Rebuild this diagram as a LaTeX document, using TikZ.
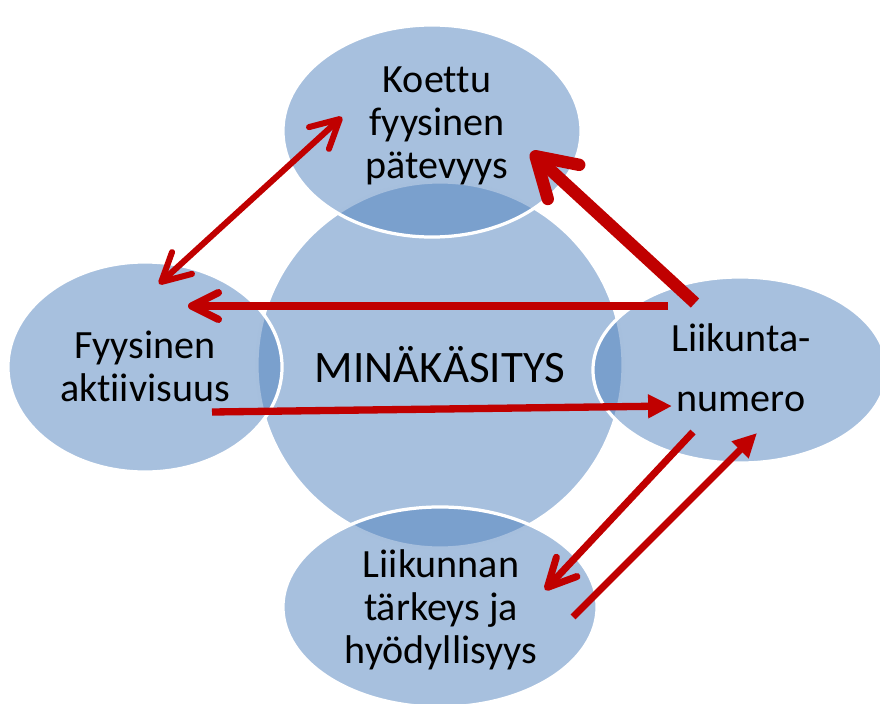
\documentclass[tikz,border=0pt]{standalone}
\usepackage{fontspec}
\setmainfont[Ligatures=NoCommon]{Carlito}
\usetikzlibrary{shapes.geometric,arrows.meta,calc}
\definecolor{ofblue}{HTML}{4F81BD}
\definecolor{ofred}{HTML}{C00000}
\tikzset{
  blob/.style={ellipse, inner sep=0pt, fill=ofblue, fill opacity=0.5, draw=white, line width=2.3pt},
  txt/.style={align=center, font=\fontsize{28.5}{30.5}\selectfont, text=black},
  barb/.style={draw=ofred, -{Straight Barb[round, length=#1, width=#1]}},
  tri/.style={draw=ofred, -{Triangle[length=17pt, width=16pt]}, fill=none}
}
\begin{document}
\begin{tikzpicture}[x=0.025cm, y=-0.025cm, line join = round]
		\useasboundingbox (0,0) rectangle (880,703);
		% ympyra ja ellipsit
		\node[blob, minimum width=9.15cm, minimum height=9.15cm] (mk) at (440,365) {};
		\node[blob, minimum width=7.45cm, minimum height=5.3cm] (kp) at (432,131) {};
		\node[blob, minimum width=6.85cm, minimum height=5.25cm] (fa) at (145,367) {};
		\node[blob, minimum width=7.35cm, minimum height=4.65cm] (ln) at (740,370) {};
		\node[blob, minimum width=7.85cm, minimum height=5cm] (th) at (440,607) {};
		% tekstit
		\node[txt, font=\fontsize{32}{36}\selectfont] (mk-t) at (440,365) {MINÄKÄSITYS};
		\node[txt] (kp-t) at (437,126) {Koettu\\fyysinen\\pätevyys};
		\node[txt] (fa-t) at (145,366) {Fyysinen\\aktiivisuus};
		\node[txt] (ln-t) at (741,368) {Liikunta-\\[12pt]numero};
		\node[txt] (th-t) at (441,610) {Liikunnan\\tärkeys ja\\hyödyllisyys};
		% nuolet
		\draw[ofred, line width=4.3pt, {Straight Barb[round, length=20pt, width=21pt]}-{Straight Barb[round, length=20pt, width=21pt]}]
			($(fa)+(14,-83)$) -- ($(kp)+(-90,-14)$);
		\draw[ofred, line width=8.8pt, -{Straight Barb[round, length=27pt, width=33pt]}] ($(ln)+(-45,-67)$) -- ($(kp)+(99,21)$);
		\draw[barb=19pt, line width=5.2pt] ($(ln)+(-72,-64)$) -- ($(fa)+(43,-61)$);
		\draw[tri, line width=5.2pt] ($(fa)+(67,45)$) -- ($(ln)+(-68,36)$);
		\draw[barb=20pt, line width=5pt] ($(ln)+(-47,62)$) -- ($(th)+(105,-17)$);
		\draw[tri, line width=5pt] ($(th)+(133,10)$) -- ($(ln)+(17,63)$);
\end{tikzpicture}
\end{document}
